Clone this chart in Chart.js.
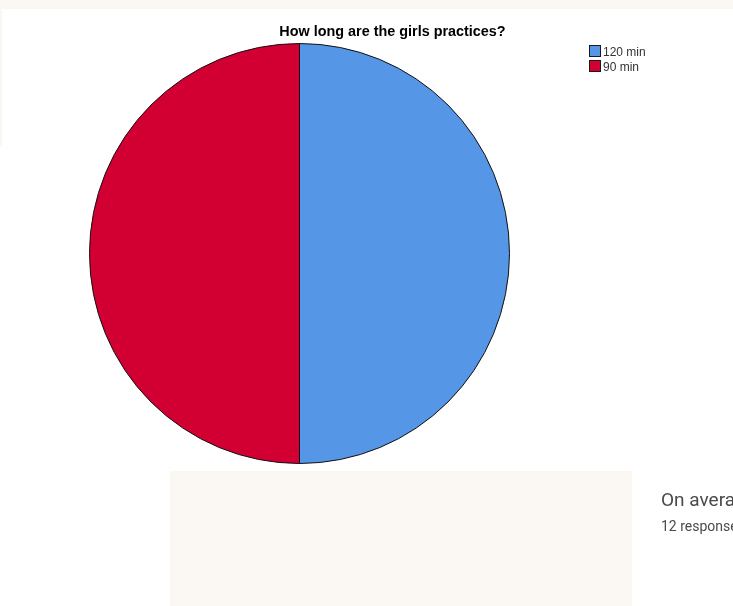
<!DOCTYPE html>
<html>
<head>
<meta charset="utf-8">
<script src="https://cdn.jsdelivr.net/npm/chart.js@4/dist/chart.umd.min.js"></script>
<style>
  html, body { margin: 0; padding: 0; background: #ffffff; }
  #wrap { position: relative; width: 733px; height: 606px; overflow: hidden; font-family: "Liberation Sans", Arial, sans-serif; }
  .sheet { position: absolute; background: #fbf8f4; }
  #pie { position: absolute; left: 0; top: 0; }
  #title { position: absolute; left: 0; width: 785px; top: 23px; text-align: center; font-weight: bold; font-size: 14.4px; color: #000; }
  #legend { position: absolute; left: 589px; top: 45px; font-size: 12px; color: #333; }
  #legend div { height: 15px; line-height: 12px; white-space: nowrap; }
  #legend span { display: inline-block; width: 10px; height: 10px; border: 1px solid #1a1a1a; vertical-align: -1px; margin-right: 2px; }
  .gform { position: absolute; left: 661px; color: #4a4a4a; font-family: Roboto, sans-serif; filter: blur(0.5px); white-space: nowrap; }
</style>
</head>
<body>
<div id="wrap">
  <div class="sheet" style="left:0;top:0;width:733px;height:9px;"></div>
  <div class="sheet" style="left:0;top:9px;width:2px;height:138px;"></div>
  <div class="sheet" style="left:170px;top:471px;width:462px;height:135px;"></div>
  <canvas id="pie" width="733" height="606"></canvas>
  <div id="title">How long are the girls practices?</div>
  <div id="legend"></div>
  <div class="gform" style="top:488px;font-size:19px;">On average</div>
  <div class="gform" style="top:518px;font-size:14px;">12 responses</div>
</div>
<script>
var labels = ["120 min", "90 min"];
var counts = [6, 6];
var colors = ["#5596e6", "#d20032"];

// legend squares next to the pie
var legend = document.getElementById("legend");
labels.forEach(function (name, i) {
    var row = document.createElement("div");
    row.innerHTML = '<span style="background:' + colors[i] + '"></span>' + name;
    legend.appendChild(row);
});

var ctx = document.getElementById("pie").getContext("2d");
var myChart = new Chart(ctx, {
    type: "pie",
    data: {
        labels: labels,
        datasets: [
            {
                data: counts,
                backgroundColor: colors,
                borderColor: "#111111",
                borderWidth: 1
            }
        ]
    },
    options: {
        responsive: false,
        animation: false,
        layout: {
            padding: { left: 89, top: 43, right: 223, bottom: 142 }
        },
        plugins: {
            legend: { display: false },
            title: { display: false },
            tooltip: { enabled: false }
        }
    }
});
</script>
</body>
</html>
